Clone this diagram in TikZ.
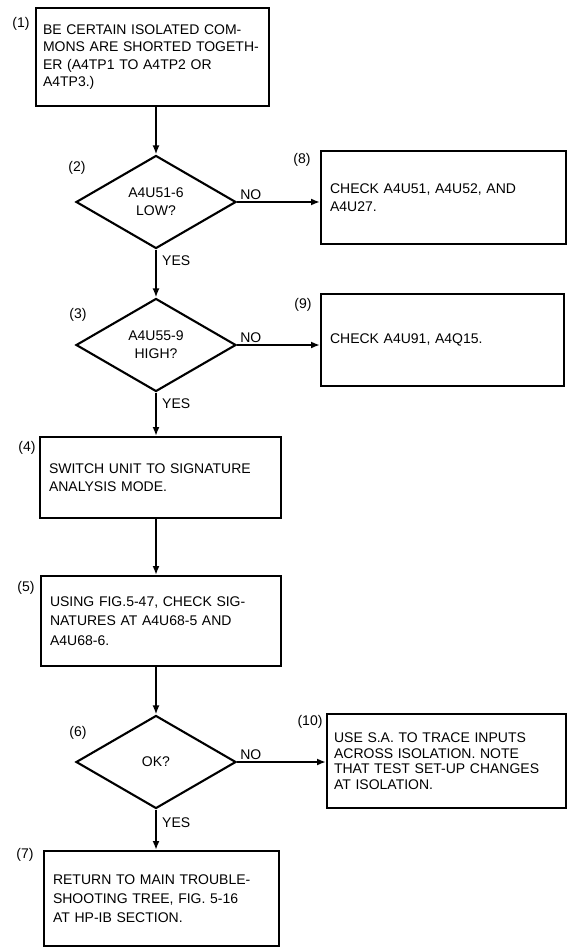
\documentclass[tikz,border=0pt]{standalone}
\usepackage{fontspec}
\setmainfont{Liberation Sans}
\usetikzlibrary{shapes.geometric,arrows.meta}

\tikzset{
  box/.style={draw, line width=2.1pt, anchor=north west, align=left,
    inner xsep=7pt, font=\fontsize{14}{17.5}\selectfont},
  decision/.style={draw, diamond, line width=2.1pt, minimum width=160pt,
    minimum height=93pt, inner sep=0pt, align=center,
    font=\fontsize{14}{18}\selectfont},
  stepno/.style={font=\fontsize{14}{16}\selectfont, inner sep=0pt},
  answer/.style={font=\fontsize{14}{16}\selectfont, inner sep=2pt},
  flow/.style={line width=2.1pt, -{Latex[length=9pt,width=7pt]}}
}

\begin{document}
\begin{tikzpicture}[x=1pt,y=-1pt]
    \useasboundingbox (0,0) rectangle (567,949);

    % main column
    \node[box, text width=219pt, minimum height=98pt] (b1) at (35,7)
      {BE CERTAIN ISOLATED COM-\\MONS ARE SHORTED TOGETH-\\ER (A4TP1 TO A4TP2 OR\\A4TP3.)};
    \node[decision] (d2) at (156,202) {A4U51-6\\LOW?};
    \node[decision] (d3) at (156,345) {A4U55-9\\HIGH?};
    \node[box, text width=223pt, minimum height=81pt, inner xsep=9pt] (b4) at (39,436)
      {SWITCH UNIT TO SIGNATURE\\ANALYSIS MODE.};
    \node[box, text width=222pt, minimum height=90pt, inner xsep=9pt,
      font=\fontsize{14}{19.5}\selectfont] (b5) at (40,575)
      {USING FIG.5-47, CHECK SIG-\\NATURES AT A4U68-5 AND\\A4U68-6.};
    \node[decision] (d6) at (156,762) {OK?};
    \node[box, text width=217pt, minimum height=95pt, inner xsep=9pt,
      font=\fontsize{14}{19}\selectfont] (b7) at (43,850)
      {RETURN TO MAIN TROUBLE-\\SHOOTING TREE, FIG. 5-16\\AT HP-IB SECTION.};

    % side boxes
    \node[box, text width=227pt, minimum height=93pt, inner xsep=9pt] (b8) at (320,150)
      {CHECK A4U51, A4U52, AND\\A4U27.};
    \node[box, text width=225pt, minimum height=92pt, inner xsep=9pt] (b9) at (320,293)
      {CHECK A4U91, A4Q15.};
    \node[box, text width=225pt, minimum height=94pt,
      font=\fontsize{14}{15.5}\selectfont] (b10) at (326,713)
      {USE S.A. TO TRACE INPUTS\\ACROSS ISOLATION. NOTE\\THAT TEST SET-UP CHANGES\\AT ISOLATION.};

    % step numbers
    \node[stepno] (n1) at (21,24) {(1)};
    \node[stepno] (n2) at (77,168) {(2)};
    \node[stepno] (n3) at (78,315) {(3)};
    \node[stepno] (n4) at (27,448) {(4)};
    \node[stepno] (n5) at (26,588) {(5)};
    \node[stepno] (n6) at (78,733) {(6)};
    \node[stepno] (n7) at (25,855) {(7)};
    \node[stepno] (n8) at (302,160) {(8)};
    \node[stepno] (n9) at (303,305) {(9)};
    \node[stepno] (n10) at (310,722) {(10)};

    % connectors
    \draw[flow] (b1.south -| d2.north) -- (d2.north);
    \draw[flow] (d2.south) -- (d3.north);
    \draw[flow] (d3.south) -- (b4.north -| d3.south);
    \draw[flow] (b4.south -| d3.south) -- (b5.north -| d3.south);
    \draw[flow] (b5.south -| d6.north) -- (d6.north);
    \draw[flow] (d6.south) -- (b7.north -| d6.south);
    \draw[flow] (d2.east) -- (b8.west |- d2.east);
    \draw[flow] (d3.east) -- (b9.west |- d3.east);
    \draw[flow] (d6.east) -- (b10.west |- d6.east);

    % answers
    \node[answer, anchor=south west, xshift=1pt] (no2) at (d2.east) {NO};
    \node[answer, anchor=south west, xshift=1pt] (no3) at (d3.east) {NO};
    \node[answer, anchor=south west, xshift=1pt] (no6) at (d6.east) {NO};
    \node[answer, anchor=north west, xshift=4pt, yshift=-4pt] (yes2) at (d2.south) {YES};
    \node[answer, anchor=north west, xshift=4pt, yshift=-4pt] (yes3) at (d3.south) {YES};
    \node[answer, anchor=north west, xshift=4pt, yshift=-6pt] (yes6) at (d6.south) {YES};
\end{tikzpicture}
\end{document}
